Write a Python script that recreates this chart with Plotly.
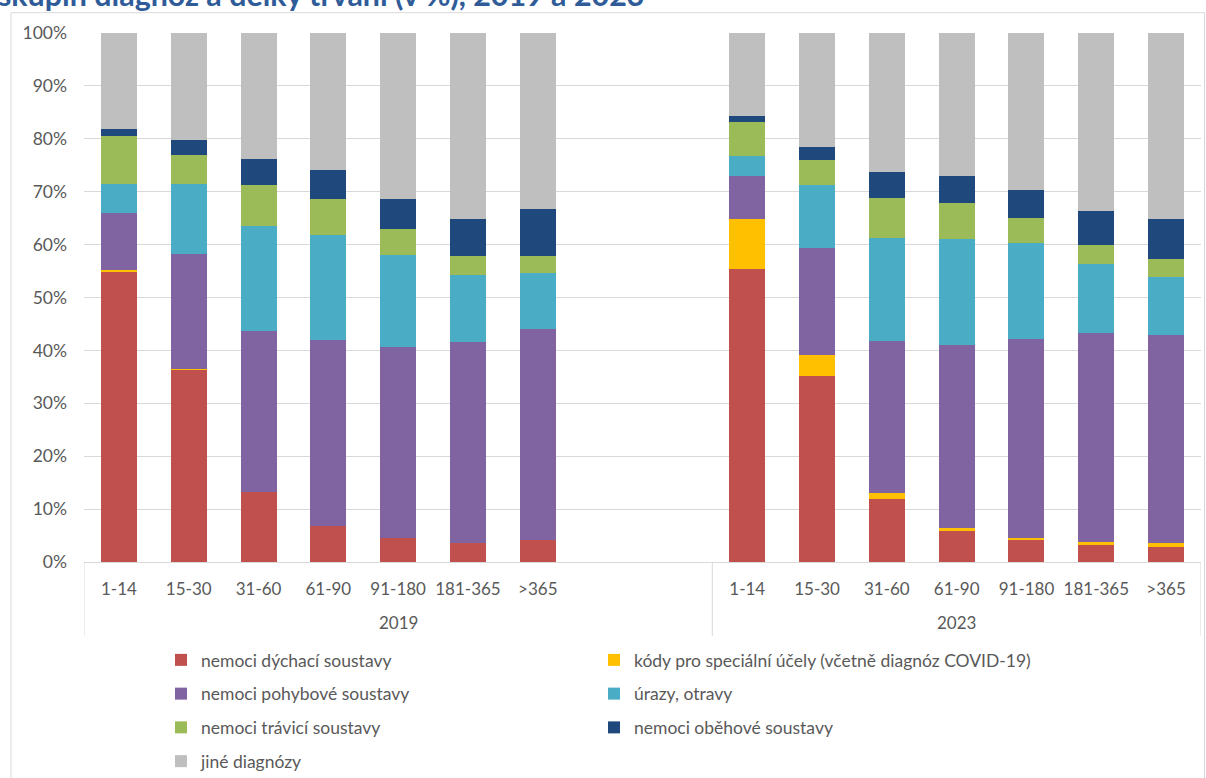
import plotly.graph_objects as go

# Duration-of-incapacity categories (days) and the two survey years
categories = ["1-14", "15-30", "31-60", "61-90", "91-180", "181-365", ">365"]
years = ["2019", "2023"]
n_spacers = 2  # empty slots after the 2019 group

# Shares (%) by diagnosis group, 2019
dychaci_2019 = [55.0, 36.3, 13.3, 6.9, 4.6, 3.6, 4.2]
kody_2019 = [0.2, 0.1, 0.0, 0.0, 0.0, 0.0, 0.0]
pohybove_2019 = [10.8, 21.8, 30.3, 35.0, 36.0, 38.0, 39.8]
urazy_2019 = [5.5, 13.2, 20.0, 19.9, 17.4, 12.6, 10.6]
travici_2019 = [9.0, 5.5, 7.6, 6.8, 4.9, 3.7, 3.3]
obehove_2019 = [1.3, 2.8, 5.0, 5.5, 5.8, 6.9, 8.9]
jine_2019 = [18.2, 20.3, 23.8, 25.9, 31.3, 35.2, 33.2]

# Shares (%) by diagnosis group, 2023
dychaci_2023 = [55.4, 35.1, 12.0, 5.9, 4.1, 3.3, 2.8]
kody_2023 = [9.4, 4.1, 1.0, 0.45, 0.4, 0.4, 0.7]
pohybove_2023 = [8.1, 20.2, 28.7, 34.6, 37.6, 39.5, 39.4]
urazy_2023 = [3.9, 11.8, 19.5, 20.1, 18.2, 13.1, 10.9]
travici_2023 = [6.4, 4.7, 7.7, 6.8, 4.8, 3.7, 3.4]
obehove_2023 = [1.1, 2.6, 4.8, 5.1, 5.2, 6.4, 7.7]
jine_2023 = [15.7, 21.5, 26.3, 27.05, 29.7, 33.6, 35.1]

series = [
    ("nemoci dýchací soustavy", dychaci_2019, dychaci_2023, "#C0504D", "legend"),
    ("kódy pro speciální účely (včetně diagnóz COVID-19)", kody_2019, kody_2023, "#FFC000", "legend2"),
    ("nemoci pohybové soustavy", pohybove_2019, pohybove_2023, "#8064A2", "legend"),
    ("úrazy, otravy", urazy_2019, urazy_2023, "#4BACC6", "legend2"),
    ("nemoci trávicí soustavy", travici_2019, travici_2023, "#9BBB59", "legend"),
    ("nemoci oběhové soustavy", obehove_2019, obehove_2023, "#1F497D", "legend2"),
    ("jiné diagnózy", jine_2019, jine_2023, "#BFBFBF", "legend"),
]

# Category slots on the x axis: "year|duration", plus empty spacer slots
slots_2019 = [f"{years[0]}|{c}" for c in categories]
spacers = [f"{years[0]}|_{i}" for i in range(n_spacers)]
slots_2023 = [f"{years[1]}|{c}" for c in categories]
slots = slots_2019 + spacers + slots_2023
labelled_slots = slots_2019 + slots_2023
slot_labels = categories + categories

FONT = "Lato"
TXT = "#595959"
GRID = "#D9D9D9"

fig = go.Figure()
for name, v2019, v2023, color, leg in series:
    fig.add_trace(go.Bar(
        name=name,
        x=slots_2019 + slots_2023,
        y=v2019 + v2023,
        marker=dict(color=color, line=dict(width=0)),
        legend=leg,
        legendgroup=name,
        customdata=slot_labels,
        hovertemplate="%{customdata}: %{y:.1f}%<extra>" + name + "</extra>",
    ))

W, H = 1206, 778
L, R, T, B = 84, 5, 33, 216
pw, ph = W - L - R, H - T - B


def px_x(px):
    return (px - L) / pw


def px_y(py):
    return 1 - (py - T) / ph


legend_common = dict(
    orientation="v",
    xanchor="left",
    yanchor="top",
    traceorder="grouped",
    tracegroupgap=8,
    font=dict(family=FONT, size=17.5, color=TXT),
    bgcolor="rgba(0,0,0,0)",
    itemclick=False,
    itemdoubleclick=False,
)

# Group boundaries (in category index units) and year label positions
n19 = len(categories) + n_spacers
bounds = [-0.5, n19 - 0.5, len(slots) - 0.5]
year_pos = [(n19 - 1) / 2, n19 + (len(categories) - 1) / 2]

shapes = [
    dict(type="rect", xref="paper", yref="paper",
         x0=px_x(11), x1=px_x(1204.5), y0=px_y(820), y1=px_y(12.7),
         line=dict(color=GRID, width=1), fillcolor="rgba(0,0,0,0)", layer="below"),
]
for b in bounds:
    shapes.append(dict(type="line", xref="x", yref="paper", x0=b, x1=b,
                       y0=px_y(562), y1=px_y(636), line=dict(color=GRID, width=1)))

annotations = [
    dict(text="<b>skupin diagnóz a délky trvání (v %), 2019 a 2023</b>",
         xref="paper", yref="paper", x=px_x(-4), y=px_y(14),
         xanchor="left", yanchor="bottom", showarrow=False,
         font=dict(family=FONT, size=30.4, color="#2F5C99")),
]
for yr, pos in zip(years, year_pos):
    annotations.append(dict(text=yr, xref="x", yref="paper", x=pos, y=px_y(622),
                            xanchor="center", yanchor="middle", showarrow=False,
                            font=dict(family=FONT, size=17, color=TXT)))

fig.update_layout(
    width=W,
    height=H,
    margin=dict(l=L, r=R, t=T, b=B, autoexpand=False),
    paper_bgcolor="white",
    plot_bgcolor="white",
    barmode="stack",
    bargap=0.484,
    font=dict(family=FONT, size=17.5, color=TXT),
    legend=dict(x=px_x(161), y=px_y(642), **legend_common),
    legend2=dict(x=px_x(594), y=px_y(642), **legend_common),
    xaxis=dict(
        type="category",
        categoryorder="array",
        categoryarray=slots,
        range=[-0.5, len(slots) - 0.5],
        tickvals=labelled_slots,
        ticktext=slot_labels,
        showline=True,
        linecolor=GRID,
        linewidth=1,
        ticks="",
        tickangle=0,
        ticklabelstandoff=12,
        showgrid=False,
        tickfont=dict(family=FONT, size=17, color=TXT),
    ),
    yaxis=dict(
        range=[0, 100],
        dtick=10,
        ticksuffix="%",
        showgrid=True,
        gridcolor=GRID,
        gridwidth=1,
        zeroline=False,
        showline=False,
        ticks="",
        ticklabelstandoff=16,
        tickfont=dict(family=FONT, size=17.5, color=TXT),
    ),
    shapes=shapes,
    annotations=annotations,
)

fig.write_html("out.html")
